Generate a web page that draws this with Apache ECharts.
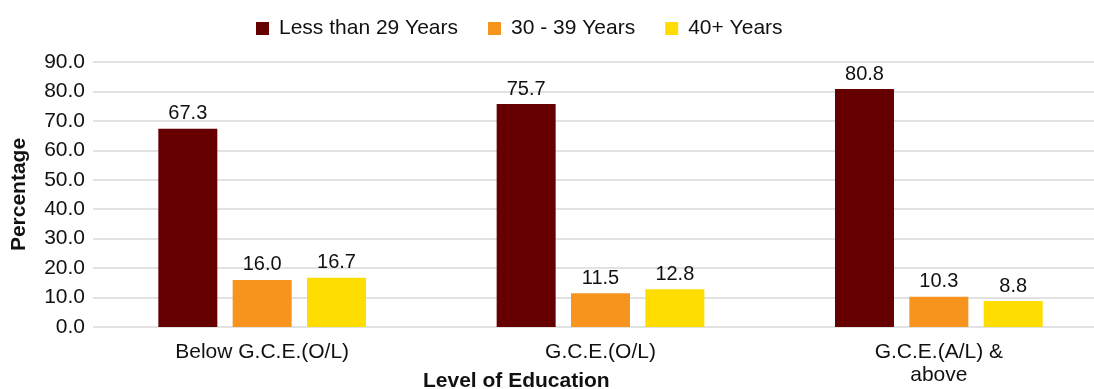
<!DOCTYPE html>
<html>
<head>
<meta charset="utf-8">
<script src="https://cdn.jsdelivr.net/npm/echarts@6/dist/echarts.min.js"></script>
<style>
  html, body { margin: 0; padding: 0; background: #fff; }
  #chart { width: 1094px; height: 389px; }
</style>
</head>
<body>
<div id="chart"></div>
<script>
// Age share of workers by level of education (%)
const categories = ['Below G.C.E.(O/L)', 'G.C.E.(O/L)', 'G.C.E.(A/L) &\nabove'];
const seriesNames = ['Less than 29 Years', '30 - 39 Years', '40+ Years'];
const under29 = [67.3, 75.7, 80.8];
const age30to39 = [16.0, 11.5, 10.3];
const age40plus = [16.7, 12.8, 8.8];
const colors = ['#660000', '#F7941E', '#FFDD00'];

const FONT = '"Liberation Sans", Arial, Helvetica, sans-serif';

function barSeries(name, data, color) {
  return {
    name: name,
    type: 'bar',
    data: data,
    barWidth: 59,
    barGap: '26%',
    itemStyle: { color: color },
    label: {
      show: true,
      position: 'top',
      distance: 5,
      color: '#111',
      fontFamily: FONT,
      fontSize: 20,
      formatter: p => p.value.toFixed(1)
    }
  };
}

const chart = echarts.init(document.getElementById('chart'), null, { renderer: 'canvas' });
chart.setOption({
  animation: false,
  color: colors,
  legend: {
    top: 18,
    left: 256,
    padding: 0,
    itemWidth: 13,
    itemHeight: 13,
    itemGap: 30,
    icon: 'rect',
    textStyle: { fontFamily: FONT, fontSize: 21, color: '#111', padding: [0, 0, 0, 5] },
    data: seriesNames
  },
  // plot area runs slightly past the right edge of the canvas
  grid: { left: 93, width: 1015, top: 62, bottom: 62, containLabel: false, outerBoundsMode: 'none' },
  xAxis: {
    type: 'category',
    data: categories,
    axisLine: { show: false },
    axisTick: { show: false },
    axisLabel: {
      color: '#111',
      fontFamily: FONT,
      fontSize: 21,
      margin: 14,
      lineHeight: 23
    }
  },
  yAxis: {
    type: 'value',
    min: 0,
    max: 90,
    interval: 10,
    name: 'Percentage',
    nameLocation: 'middle',
    nameGap: 63,
    nameRotate: 90,
    nameTextStyle: { fontFamily: FONT, fontSize: 21, fontWeight: 'bold', color: '#111' },
    axisLine: { show: false },
    axisTick: { show: false },
    splitLine: { lineStyle: { color: '#d9d9d9', width: 1.5 } },
    axisLabel: {
      color: '#111',
      fontFamily: FONT,
      fontSize: 21,
      margin: 8,
      formatter: v => v.toFixed(1)
    }
  },
  graphic: [{
    type: 'text',
    left: 423,
    top: 371,
    style: {
      text: 'Level of Education',
      fontFamily: FONT,
      fontSize: 21,
      fontWeight: 'bold',
      fill: '#111'
    }
  }],
  series: [
    barSeries(seriesNames[0], under29, colors[0]),
    barSeries(seriesNames[1], age30to39, colors[1]),
    barSeries(seriesNames[2], age40plus, colors[2])
  ]
});
</script>
</body>
</html>
